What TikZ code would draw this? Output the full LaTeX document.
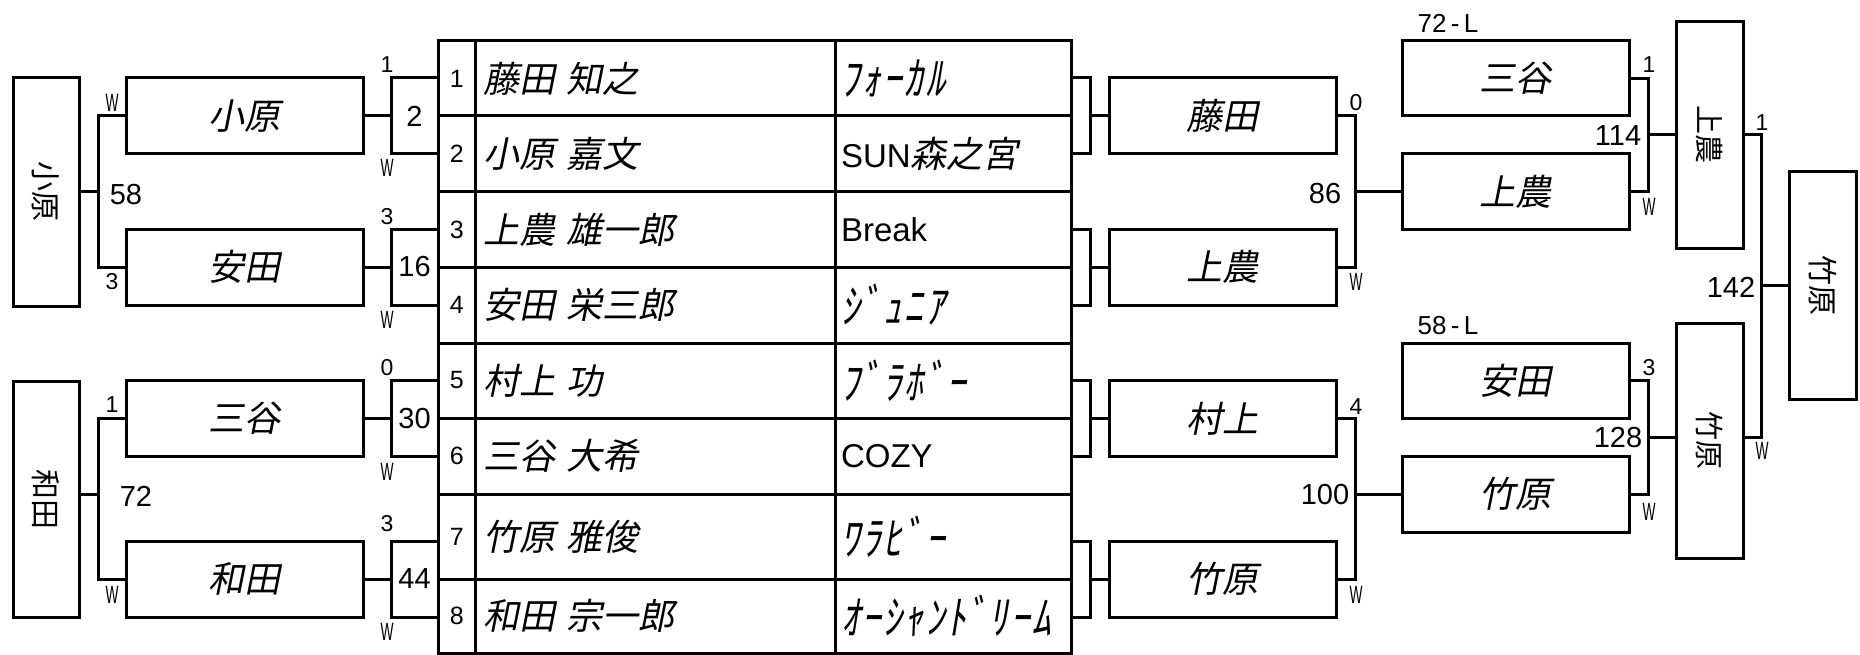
\documentclass[tikz,border=0pt]{standalone}
\usepackage{graphicx}
\usepackage{fontspec}
\setmainfont{Liberation Sans}
\newfontfamily\jp{Noto Sans CJK JP}
\newfontfamily\jpit[FakeSlant=0.2]{Noto Sans CJK JP}
\newfontfamily\kana[FakeSlant=0.2,LetterSpace=6]{Noto Sans CJK JP}
\newcommand\fsz[1]{\fontsize{#1pt}{#1pt}\selectfont}
\newcommand\Wl{\scalebox{0.55}[1]{\fsz{25}W}}
\newcommand\gap{\hspace{11pt}}
\newcommand\kn[1]{\scalebox{1}[1.22]{\kana\fsz{38}#1}}
\begin{document}
\begin{tikzpicture}[x=1pt,y=-1pt,
  ln/.style={line width=3pt},
  box/.style={draw,line width=3pt,inner sep=0pt,rectangle},
  cell/.style={draw,line width=3pt,inner sep=0pt,rectangle},
  rbox/.style={box,minimum width=237pt,minimum height=76pt,font=\jpit\fsz{36}},
  vbox/.style={box,minimum width=66pt},
  sm/.style={inner sep=0pt,font=\fsz{23}},
  wl/.style={inner sep=0pt},
  md/.style={inner sep=0pt,font=\fsz{29}},
]
\useasboundingbox (0,0) rectangle (1860,655);

% ---------- table ----------
\foreach \i/\c/\h/\nm/\tm in {
  1/78.5/75/{藤田\gap 知之}/{\kn{ﾌｫｰｶﾙ}},
  2/154/76/{小原\gap 嘉文}/{{\fsz{33}SUN}{\jpit\fsz{36}森之宮}},
  3/229.5/75/{上農\gap 雄一郎}/{\fsz{33}Break},
  4/305/76/{安田\gap 栄三郎}/{\kn{ｼﾞｭﾆｱ}},
  5/380.5/75/{村上\gap 功}/{\kn{ﾌﾞﾗﾎﾞｰ}},
  6/456/76/{三谷\gap 大希}/{\fsz{33}COZY},
  7/536.5/85/{竹原\gap 雅俊}/{\kn{ﾜﾗﾋﾞｰ}},
  8/616/74/{和田\gap 宗一郎}/{\kn{ｵｰｼｬﾝﾄﾞﾘｰﾑ}}}{
  \node[cell,minimum width=37.6pt,minimum height=\h pt,font=\fsz{25}] (n\i) at (456.8,\c) {\i};
  \node[cell,minimum width=359.4pt,minimum height=\h pt,inner xsep=8pt,text width=343.4pt,align=left] (p\i) at (655.3,\c) {\jpit\fsz{36}\nm};
  \node[cell,minimum width=236.5pt,minimum height=\h pt,inner xsep=6pt,text width=224.5pt,align=left] (t\i) at (953.25,\c) {\tm};
}

% ---------- left side ----------
\node[vbox,minimum height=228pt] (LW1) at (46,192) {\rotatebox{-90}{\jp\fsz{30}小原}};
\node[vbox,minimum height=236pt] (LW2) at (46,499) {\rotatebox{-90}{\jp\fsz{30}和田}};
\node[rbox] (L1) at (244.5,116) {小原};
\node[rbox] (L2) at (244.5,267) {安田};
\node[rbox] (L3) at (244.5,418.5) {三谷};
\node[rbox] (L4) at (244.5,579) {和田};
\node[box,minimum width=47pt,minimum height=76pt,font=\fsz{29}] (M1) at (414.5,116) {2};
\node[box,minimum width=47pt,minimum height=76pt,font=\fsz{29}] (M2) at (414.5,267) {16};
\node[box,minimum width=47pt,minimum height=76pt,font=\fsz{29}] (M3) at (414.5,418.5) {30};
\node[box,minimum width=47pt,minimum height=76pt,font=\fsz{29}] (M4) at (414.5,579) {44};

\draw[ln] (L1.east) -- (M1.west);
\draw[ln] (L2.east) -- (M2.west);
\draw[ln] (L3.east) -- (M3.west);
\draw[ln] (L4.east) -- (M4.west);
\coordinate (jL1) at (98,191.5);
\coordinate (jL2) at (98,494);
\draw[ln] (L1.west) -| (jL1) |- (L2.west);
\draw[ln] (jL1) -- (jL1 -| LW1.east);
\draw[ln] (L3.west) -| (jL2) |- (L4.west);
\draw[ln] (jL2) -- (jL2 -| LW2.east);

% ---------- right side ----------
\node[box,minimum width=18.5pt,minimum height=76pt] (RB1) at (1080.75,116) {};
\node[box,minimum width=18.5pt,minimum height=76pt] (RB2) at (1080.75,267) {};
\node[box,minimum width=18.5pt,minimum height=76pt] (RB3) at (1080.75,418.5) {};
\node[box,minimum width=18.5pt,minimum height=76pt] (RB4) at (1080.75,579) {};
\node[rbox,minimum width=227pt] (RR1) at (1222.5,116) {藤田};
\node[rbox,minimum width=227pt] (RR2) at (1222.5,267) {上農};
\node[rbox,minimum width=227pt] (RR3) at (1222.5,418.5) {村上};
\node[rbox,minimum width=227pt] (RR4) at (1222.5,579) {竹原};
\node[rbox,minimum width=227pt,minimum height=75.5pt] (S1) at (1515.5,78.25) {三谷};
\node[rbox,minimum width=227pt,minimum height=75pt] (S2) at (1515.5,191.5) {上農};
\node[rbox,minimum width=227pt,minimum height=75pt] (S3) at (1515.5,380.5) {安田};
\node[rbox,minimum width=227pt,minimum height=76pt] (S4) at (1515.5,494) {竹原};
\node[vbox,minimum width=67pt,minimum height=226pt] (V1) at (1709.5,135) {\rotatebox{-90}{\jp\fsz{29}上農}};
\node[vbox,minimum width=67pt,minimum height=235pt] (V2) at (1709.5,440.5) {\rotatebox{-90}{\jp\fsz{29}竹原}};
\node[vbox,minimum width=67pt,minimum height=227pt] (F) at (1822.5,285.5) {\rotatebox{-90}{\jp\fsz{30}竹原}};

\draw[ln] (RB1.east) -- (RR1.west);
\draw[ln] (RB2.east) -- (RR2.west);
\draw[ln] (RB3.east) -- (RR3.west);
\draw[ln] (RB4.east) -- (RR4.west);
\coordinate (jR1) at (1355,191.5);
\coordinate (jR2) at (1355,494);
\draw[ln] (RR1.east) -| (jR1) |- (RR2.east);
\draw[ln] (jR1) -- (S2.west);
\draw[ln] (RR3.east) -| (jR2) |- (RR4.east);
\draw[ln] (jR2) -- (S4.west);
\coordinate (jS1) at (1648,135);
\coordinate (jS2) at (1648,437.5);
\draw[ln] (S1.east) -| (jS1) |- (S2.east);
\draw[ln] (jS1) -- (V1.west);
\draw[ln] (S3.east) -| (jS2) |- (S4.east);
\draw[ln] (jS2) -- (jS2 -| V2.west);
\coordinate (jF) at (1761,285.5);
\draw[ln] (V1.east) -| (jF) |- (V2.east |- jS2);
\draw[ln] (jF) -- (F.west);

% ---------- labels ----------
\node[sm] (a1) at (387,65) {1};
\node[wl] (a2) at (387,168) {\Wl};
\node[sm] (a3) at (387,217) {3};
\node[wl] (a4) at (387,320) {\Wl};
\node[sm] (a5) at (387,368) {0};
\node[wl] (a6) at (387,472) {\Wl};
\node[sm] (a7) at (387,524) {3};
\node[wl] (a8) at (387,632) {\Wl};

\node[wl] (b1) at (112,103) {\Wl};
\node[sm] (b2) at (112,282) {3};
\node[sm] (b3) at (112,405) {1};
\node[wl] (b4) at (112,595) {\Wl};
\node[md] (b5) at (126,195) {58};
\node[md] (b6) at (136,496) {72};

\node[sm] (c1) at (1356,103) {0};
\node[wl] (c2) at (1356,282) {\Wl};
\node[sm] (c3) at (1356,407) {4};
\node[wl] (c4) at (1356,595) {\Wl};
\node[md] (c5) at (1325,194) {86};
\node[md] (c6) at (1325,495) {100};

\node[sm] (d1) at (1649,65) {1};
\node[wl] (d2) at (1649,207) {\Wl};
\node[sm] (d3) at (1649,368) {3};
\node[wl] (d4) at (1649,512) {\Wl};
\node[md] (d5) at (1618,136) {114};
\node[md] (d6) at (1618,438) {128};

\node[sm] (e1) at (1762,123) {1};
\node[wl] (e2) at (1762,451) {\Wl};
\node[md] (e3) at (1731,287) {142};

\node[inner sep=0pt,font=\fsz{26}] (f1) at (1448,23) {72\,-\,L};
\node[inner sep=0pt,font=\fsz{26}] (f2) at (1448,326) {58\,-\,L};
\end{tikzpicture}
\end{document}
